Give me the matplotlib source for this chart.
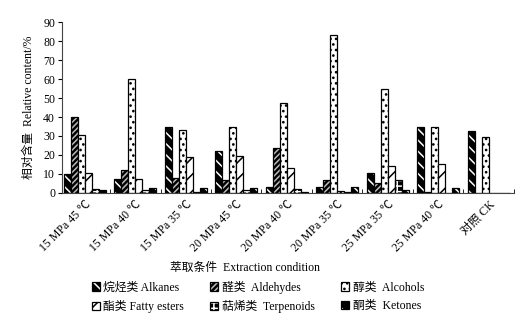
import matplotlib
matplotlib.use('Agg')
import numpy as np
import matplotlib.pyplot as plt
from matplotlib.patches import Patch
from matplotlib.legend_handler import HandlerTuple

plt.rcParams['font.family'] = ['Liberation Serif', 'Noto Sans CJK SC', 'DejaVu Sans']
plt.rcParams['hatch.linewidth'] = 1.1

# Veriler
conditions = ['15 MPa 45 ℃', '15 MPa 40 ℃', '15 MPa 35 ℃', '20 MPa 45 ℃', '20 MPa 40 ℃',
              '20 MPa 35 ℃', '25 MPa 35 ℃', '25 MPa 40 ℃', '对照 CK']
alkanes = [9.8, 7.3, 34.9, 22.3, 3.2, 3.0, 10.7, 34.9, 32.5]
aldehydes = [40.0, 12.3, 7.9, 6.6, 23.9, 6.9, 5.3, 0.4, 0.0]
alcohols = [30.5, 60.2, 33.2, 34.9, 47.4, 83.2, 54.9, 34.9, 29.7]
fatty_esters = [10.7, 7.2, 18.8, 19.5, 13.3, 0.8, 14.0, 15.2, 0.0]
terpenoids = [2.1, 1.6, 0.5, 1.6, 2.1, 0.4, 6.8, 0.0, 0.0]
ketones = [1.6, 2.6, 2.6, 2.6, 0.7, 3.0, 1.8, 2.4, 0.0]

series = [
    ('烷烃类 Alkanes', alkanes, 'black', '\\\\\\', 'white'),
    ('醛类  Aldehydes', aldehydes, 'black', '//////', '#bbbbbb'),
    ('醇类  Alcohols', alcohols, 'white', '...', 'black'),
    ('酯类 Fatty esters', fatty_esters, 'white', '//', 'black'),
    ('萜烯类  Terpenoids', terpenoids, 'black', '+++', 'white'),
    ('酮类  Ketones', ketones, 'black', '\\\\', 'white'),
]

fig = plt.figure(figsize=(5.26, 3.21), dpi=100)
ax = fig.add_axes([0.118, 0.399, 0.859, 0.532])

x = np.arange(len(conditions))
width = 0.139
handles = {}
for i, (name, vals, face, hatch, hcol) in enumerate(series):
    pos = x - 0.415 + width * (i + 0.5)
    ax.bar(pos, vals, width, color=face, edgecolor=hcol, hatch=hatch, linewidth=0)
    ax.bar(pos, vals, width, fill=False, edgecolor='black', linewidth=0.9)
    h1 = Patch(facecolor=face, edgecolor=hcol, hatch=hatch, linewidth=0)
    h2 = Patch(fill=False, edgecolor='black', linewidth=0.9)
    handles[name] = (h1, h2)

ax.set_xlim(-0.45, 8.5)
ax.set_ylim(0, 90)
ax.set_yticks(range(0, 91, 10))
ax.set_xticks(x)
ax.set_xticklabels(conditions, rotation=45, ha='right', rotation_mode='anchor', fontsize=8.5)
ax.set_xticks(np.arange(0.5, 9, 1), minor=True)
ax.tick_params(axis='x', which='major', length=0, pad=4)
ax.tick_params(axis='x', which='minor', length=3, direction='in')
ax.tick_params(axis='y', labelsize=8.5, length=3, direction='out', pad=2)
for s in ['top', 'right']:
    ax.spines[s].set_visible(False)
ax.spines['left'].set_color('#444444')
ax.spines['bottom'].set_color('#444444')

ax.set_ylabel('相对含量  Relative content/%', fontsize=8.5, labelpad=6)
fig.text(245 / 526, 1 - 268 / 321, '萃取条件  Extraction condition', ha='center', va='center', fontsize=8.5)

# Lejant: satır düzeni için sütun sırasına göre
order = ['烷烃类 Alkanes', '酯类 Fatty esters', '醛类  Aldehydes', '萜烯类  Terpenoids',
         '醇类  Alcohols', '酮类  Ketones']
fig.legend([handles[n] for n in order], order, loc='center', ncol=3,
           bbox_to_anchor=(0.49, 1 - 297 / 321), frameon=False, fontsize=8.5,
           handler_map={tuple: HandlerTuple(ndivide=1, pad=0)},
           handlelength=0.7, handleheight=0.7, handletextpad=0.3,
           columnspacing=2.2, labelspacing=0.55)

fig.savefig('out.png', dpi=100)
